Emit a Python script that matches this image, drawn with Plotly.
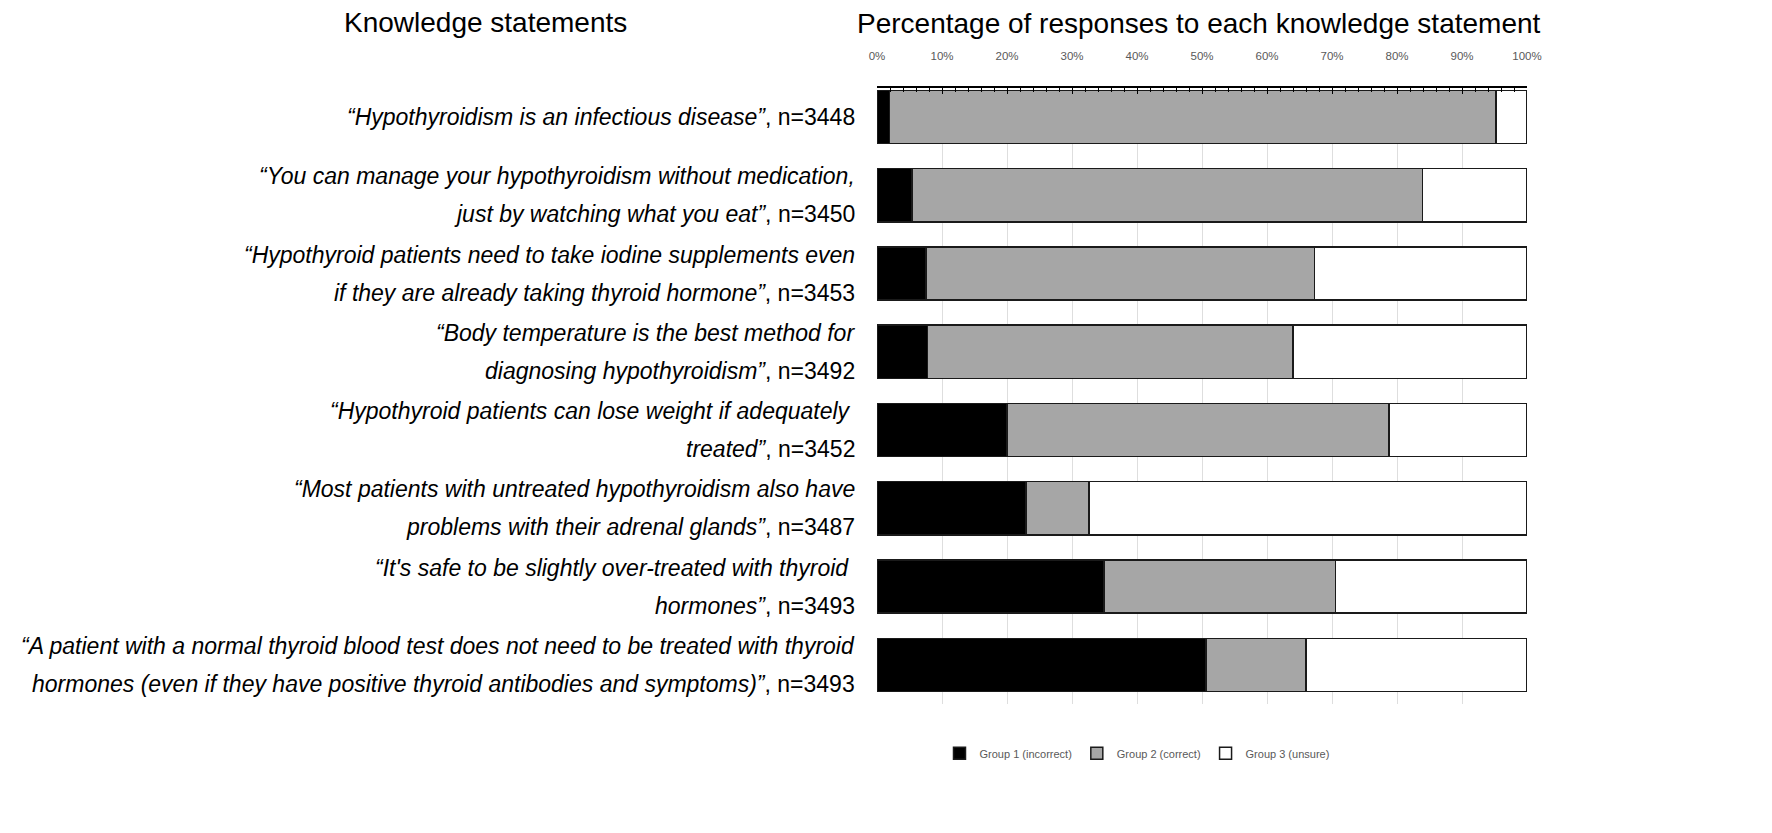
import plotly.graph_objects as go

# knowledge statements (one entry per line of the label) and sample sizes
statements = [
    ["“Hypothyroidism is an infectious disease”"],
    ["“You can manage your hypothyroidism without medication,",
     "just by watching what you eat”"],
    ["“Hypothyroid patients need to take iodine supplements even",
     "if they are already taking thyroid hormone”"],
    ["“Body temperature is the best method for",
     "diagnosing hypothyroidism”"],
    ["“Hypothyroid patients can lose weight if adequately ",
     "treated”"],
    ["“Most patients with untreated hypothyroidism also have",
     "problems with their adrenal glands”"],
    ["“It's safe to be slightly over-treated with thyroid ",
     "hormones”"],
    ["“A patient with a normal thyroid blood test does not need to be treated with thyroid",
     "hormones (even if they have positive thyroid antibodies and symptoms)”"],
]
n_resp = [3448, 3450, 3453, 3492, 3452, 3487, 3493, 3493]

# percentages
group1 = [1.9, 5.4, 7.5, 7.8, 20.0, 22.9, 34.9, 50.6]
group2 = [93.3, 78.5, 59.8, 56.2, 58.8, 9.7, 35.6, 15.4]
group3 = [4.8, 16.1, 32.7, 36.0, 21.2, 67.4, 29.5, 34.0]

series = [
    ("Group 1 (incorrect)", group1, "#000000"),
    ("Group 2 (correct)", group2, "#a6a6a6"),
    ("Group 3 (unsure)", group3, "#ffffff"),
]

cats = list(range(len(statements)))
label_font = "Liberation Sans, Arial, sans-serif"

fig = go.Figure()
for name, vals, col in series:
    fig.add_trace(go.Bar(
        y=cats, x=vals, name=name, orientation="h",
        marker=dict(color=col, line=dict(color="#1a1a1a", width=1.5)),
    ))

# statement labels, one annotation per line so the line spacing can match
for i, lines in enumerate(statements):
    k = len(lines)
    for j, ln in enumerate(lines):
        txt = "<i>" + ln + "</i>"
        if j == k - 1:
            txt += ", n=" + str(n_resp[i])
        shift = (k - 1) / 2 * 38 - j * 38
        fig.add_annotation(x=0, y=i, xref="paper", yref="y", text=txt,
                           showarrow=False, xanchor="right", yanchor="middle",
                           xshift=-20, yshift=shift,
                           font=dict(size=23, color="#000000", family=label_font))

fig.add_annotation(x=0, y=1, xref="paper", yref="paper", text="Knowledge statements",
                   showarrow=False, xanchor="center", yanchor="middle",
                   xshift=-392, yshift=66,
                   font=dict(size=28, color="#000000", family=label_font))
fig.add_annotation(x=0, y=1, xref="paper", yref="paper",
                   text="Percentage of responses to each knowledge statement",
                   showarrow=False, xanchor="left", yanchor="middle",
                   xshift=-22, yshift=65,
                   font=dict(size=28, color="#000000", family=label_font))

fig.update_layout(
    barmode="stack", bargap=0.32,
    width=1772, height=833,
    margin=dict(l=869, r=253, t=80, b=137),
    paper_bgcolor="white", plot_bgcolor="white",
    font=dict(family=label_font),
    legend=dict(orientation="h", x=0.40, y=-0.08, xanchor="center", yanchor="middle",
                font=dict(size=11, color="#595959"), traceorder="normal",
                itemwidth=30),
)
fig.update_xaxes(side="top", range=[0, 100], dtick=10, ticksuffix="%",
                 showline=True, linecolor="#000000", linewidth=1.5,
                 ticks="inside", ticklen=6, tickcolor="#000000",
                 minor=dict(dtick=2, ticks="inside", ticklen=4, tickcolor="#000000"),
                 showgrid=True, gridcolor="#dedede", gridwidth=1,
                 tickfont=dict(size=11.5, color="#595959"), ticklabelstandoff=22,
                 zeroline=False)
fig.update_yaxes(range=[7.5, -0.37], showticklabels=False, showgrid=False,
                 zeroline=False, showline=False)

fig.write_html("out.html")
